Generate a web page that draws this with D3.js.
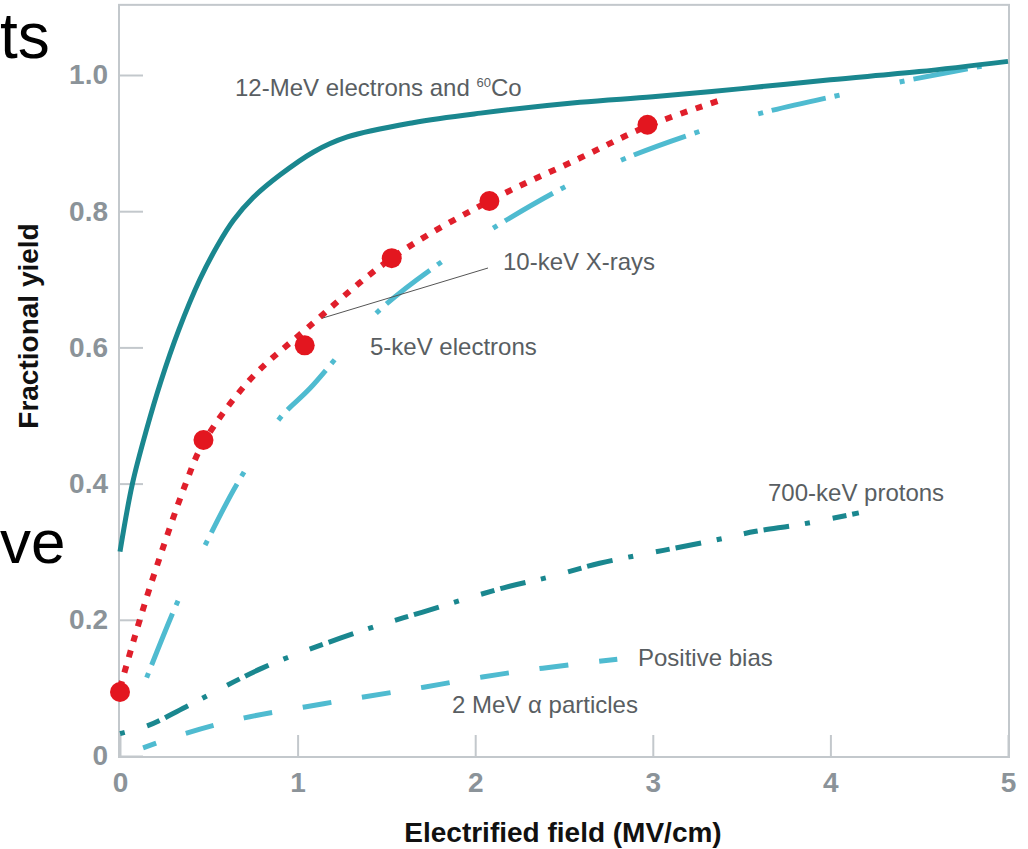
<!DOCTYPE html>
<html>
<head>
<meta charset="utf-8">
<script src="https://cdn.jsdelivr.net/npm/d3@7/dist/d3.min.js"></script>
<style>
  html, body { margin: 0; padding: 0; background: #fff; }
  svg { display: block; font-family: "Liberation Sans", Arial, sans-serif; }
</style>
</head>
<body>
<div id="chart"></div>
<script>
// fractional yield vs. electric field

const xTicks = [0, 1, 2, 3, 4, 5];
const yTicks = [0, 0.2, 0.4, 0.6, 0.8, 1.0];

// 12-MeV electrons and 60Co (solid)
const cobalt = [[0, 0.30], [0.07, 0.40], [0.15, 0.48], [0.23, 0.55], [0.33, 0.625], [0.45, 0.70],
  [0.55, 0.75], [0.64, 0.787], [0.75, 0.82], [0.9, 0.853], [1.09, 0.887], [1.28, 0.909],
  [1.65, 0.93], [2.03, 0.944], [2.59, 0.96], [3, 0.968], [3.5, 0.98], [4, 0.993], [4.5, 1.005], [5, 1.02]];

// 10-keV X-rays (dotted) and measured points
const xrayLine = [[0, 0.10], [0.1, 0.19], [0.19, 0.265], [0.37, 0.40], [0.47, 0.46], [0.73, 0.552],
  [1.04, 0.625], [1.53, 0.731], [2.08, 0.815], [2.59, 0.878], [2.97, 0.925], [3.37, 0.962]];
const xrayPoints = [[0, 0.094], [0.47, 0.464], [1.04, 0.603], [1.53, 0.731], [2.08, 0.815], [2.97, 0.927]];

// 5-keV electrons (long dash-dot)
const electrons5 = [[0.15, 0.115], [0.33, 0.23], [0.48, 0.31], [0.66, 0.40], [0.9, 0.496], [1.07, 0.54],
  [1.45, 0.652], [1.84, 0.731], [2.1, 0.775], [2.5, 0.835], [2.85, 0.878], [3.32, 0.922],
  [3.64, 0.946], [4.13, 0.975], [4.45, 0.993], [5, 1.02]];

// 700-keV protons (dash-dot)
const protons = [[0, 0.033], [0.16, 0.045], [0.37, 0.072], [0.8, 0.129], [1.24, 0.173], [1.52, 0.197],
  [1.7, 0.211], [2.16, 0.247], [2.42, 0.263], [2.7, 0.283], [3.06, 0.302], [3.35, 0.317],
  [3.58, 0.33], [3.83, 0.34], [4.16, 0.357]];

// 2 MeV alpha particles, positive bias (dashed)
const alphas = [[0.13, 0.012], [0.38, 0.034], [0.7, 0.056], [1.04, 0.072], [1.38, 0.087],
  [1.71, 0.101], [2.04, 0.116], [2.38, 0.129], [2.8, 0.142]];

const labels = [
  {text: "10-keV X-rays", x: 503, y: 270},
  {text: "5-keV electrons", x: 370, y: 355},
  {text: "700-keV protons", x: 768, y: 501},
  {text: "Positive bias", x: 638, y: 666},
  {text: "2 MeV \u03b1 particles", x: 452, y: 713}
];

const width = 1028, height = 849;
const darkTeal = "#1a878f", lightCyan = "#4fbbd0", red = "#e01f2b";

const svg = d3.select("#chart").append("svg")
  .attr("width", width)
  .attr("height", height);

const x = d3.scaleLinear().domain([0, 5]).range([120, 1008]);
const y = d3.scaleLinear().domain([0, 1]).range([756, 75]);

// frame
svg.append("rect")
  .attr("x", x(0) - 1)
  .attr("y", y(1.103))
  .attr("width", x(5) - x(0) + 2)
  .attr("height", y(0) - y(1.103) + 1)
  .attr("fill", "none")
  .attr("stroke", "#c3c8cc")
  .attr("stroke-width", 2);

// axes, ticks point inward
const yAxis = svg.append("g")
  .attr("transform", `translate(${x(0) - 1},0)`)
  .call(d3.axisLeft(y).tickValues(yTicks).tickSize(-24).tickPadding(11)
    .tickFormat(d => d === 0 ? "0" : d3.format(".1f")(d)));

const xAxis = svg.append("g")
  .attr("transform", `translate(0,${y(0) + 1})`)
  .call(d3.axisBottom(x).tickValues(xTicks).tickSize(-22).tickPadding(15)
    .tickFormat(d3.format("d")));

[yAxis, xAxis].forEach(a => {
  a.select(".domain").remove();
  a.selectAll(".tick line").attr("stroke", "#c3c8cc").attr("stroke-width", 2);
  a.selectAll(".tick text")
    .attr("fill", "#8b9399")
    .style("font-size", "28px")
    .style("font-weight", "bold")
    .style("font-family", "'Liberation Sans', Arial, sans-serif");
});

// axis titles
svg.append("text")
  .attr("transform", "translate(38,326) rotate(-90)")
  .attr("text-anchor", "middle")
  .style("font-size", "28px")
  .style("font-weight", "bold")
  .attr("fill", "#111")
  .text("Fractional yield");

svg.append("text")
  .attr("x", 563)
  .attr("y", 842)
  .attr("text-anchor", "middle")
  .style("font-size", "28px")
  .style("font-weight", "bold")
  .attr("fill", "#111")
  .text("Electrified field (MV/cm)");

// curves
const line = d3.line()
  .x(d => x(d[0]))
  .y(d => y(d[1]))
  .curve(d3.curveCatmullRom.alpha(0.5));

const curves = [
  {data: alphas, color: lightCyan, width: 5, dash: "29,31", offset: 15},
  {data: protons, color: darkTeal, width: 5, dash: "5,23,14,6,26,16", offset: 0},
  {data: electrons5, color: lightCyan, width: 5, dash: "5,9,55,9,5,62", offset: 0},
  {data: xrayLine, color: red, width: 6, dash: "7,9", offset: 0},
  {data: cobalt, color: darkTeal, width: 5, dash: null, offset: 0}
];

curves.forEach(c => {
  svg.append("path")
    .datum(c.data)
    .attr("d", line)
    .attr("fill", "none")
    .attr("stroke", c.color)
    .attr("stroke-width", c.width)
    .attr("stroke-dasharray", c.dash)
    .attr("stroke-dashoffset", c.offset);
});

svg.selectAll("circle.pt")
  .data(xrayPoints)
  .join("circle")
  .attr("class", "pt")
  .attr("cx", d => x(d[0]))
  .attr("cy", d => y(d[1]))
  .attr("r", 10)
  .attr("fill", "#e3161f");

// leader line for the X-ray label
svg.append("line")
  .attr("x1", x(1.14)).attr("y1", y(0.643))
  .attr("x2", 488).attr("y2", 268)
  .attr("stroke", "#555")
  .attr("stroke-width", 1);

// curve labels
const lab = svg.append("g")
  .style("font-size", "24px")
  .attr("fill", "#595e62");

const topLabel = lab.append("text").attr("x", 235).attr("y", 96);
topLabel.append("tspan").text("12-MeV electrons and ");
topLabel.append("tspan").text("60").style("font-size", "13px").attr("dy", -9);
topLabel.append("tspan").text("Co").attr("dy", 9);

lab.selectAll("text.lbl")
  .data(labels)
  .join("text")
  .attr("class", "lbl")
  .attr("x", d => d.x)
  .attr("y", d => d.y)
  .text(d => d.text);

// fragments of slide text that overlap the figure
svg.append("text")
  .attr("x", 0).attr("y", 58)
  .style("font-size", "64px")
  .attr("fill", "#000")
  .text("ts");

svg.append("text")
  .attr("x", 0).attr("y", 563)
  .style("font-size", "62px")
  .attr("fill", "#000")
  .text("ve");
</script>
</body>
</html>
